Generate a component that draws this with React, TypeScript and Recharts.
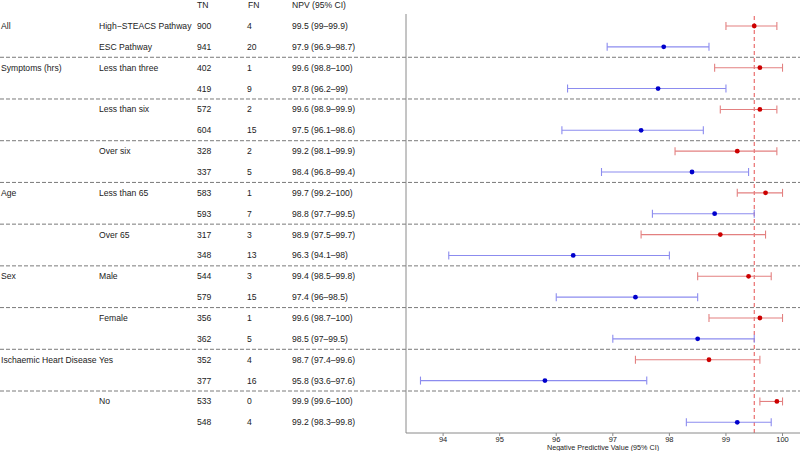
import React from 'react';
import {
  ScatterChart,
  Scatter,
  XAxis,
  YAxis,
  ErrorBar,
  ReferenceLine,
} from 'recharts';

// Row order: pairs of (High-STEACS, ESC) per subgroup
const groupLabels = ['All', '', 'Symptoms (hrs)', '', '', '', '', '', 'Age', '', '', '', 'Sex', '', '', '', 'Ischaemic Heart Disease', '', '', ''];
const subLabels = ['High\u2212STEACS Pathway', 'ESC Pathway', 'Less than three', '', 'Less than six', '', 'Over six', '', 'Less than 65', '', 'Over 65', '', 'Male', '', 'Female', '', 'Yes', '', 'No', ''];
const tnValues = [900, 941, 402, 419, 572, 604, 328, 337, 583, 593, 317, 348, 544, 579, 356, 362, 352, 377, 533, 548];
const fnValues = [4, 20, 1, 9, 2, 15, 2, 5, 1, 7, 3, 13, 3, 15, 1, 5, 4, 16, 0, 4];
const npvValues = [99.5, 97.9, 99.6, 97.8, 99.6, 97.5, 99.2, 98.4, 99.7, 98.8, 98.9, 96.3, 99.4, 97.4, 99.6, 98.5, 98.7, 95.8, 99.9, 99.2];
const ciLow = [99, 96.9, 98.8, 96.2, 98.9, 96.1, 98.1, 96.8, 99.2, 97.7, 97.5, 94.1, 98.5, 96, 98.7, 97, 97.4, 93.6, 99.6, 98.3];
const ciHigh = [99.9, 98.7, 100, 99, 99.9, 98.6, 99.9, 99.4, 100, 99.5, 99.7, 98, 99.8, 98.5, 100, 99.5, 99.6, 97.6, 100, 99.8];
const xTicks = [94, 95, 96, 97, 98, 99, 100];
const thresholdNpv = 99.5;

const rowIdx = npvValues.map((_, i) => i);
const separators = rowIdx.filter((i) => i % 2 === 1 && i < rowIdx.length - 1).map((i) => i + 0.5);

const makeRow = (i: number) => ({
  row: i,
  npv: npvValues[i],
  err: [npvValues[i] - ciLow[i], ciHigh[i] - npvValues[i]],
});
const highSteacsData = rowIdx.filter((i) => i % 2 === 0).map(makeRow);
const escData = rowIdx.filter((i) => i % 2 === 1).map(makeRow);

const FONT = '"Liberation Sans", Arial, Helvetica, sans-serif';
const TXT = '#222';
const TS = 8.6;

const fmtCi = (i: number) => `${npvValues[i]} (${ciLow[i]}\u2013${ciHigh[i]})`;

const RowTick = (props: any) => {
  const { y, payload } = props;
  const i = payload.value as number;
  const common = { fontSize: TS, fill: TXT, fontFamily: FONT, dominantBaseline: 'central' as const };
  return (
    <g>
      {i === 0 && (
        <g>
          <text x={197} y={y - 20.5} {...common}>TN</text>
          <text x={248} y={y - 20.5} {...common}>FN</text>
          <text x={292} y={y - 20.5} {...common}>NPV (95% CI)</text>
        </g>
      )}
      {groupLabels[i] && <text x={1} y={y} {...common}>{groupLabels[i]}</text>}
      {subLabels[i] && <text x={99} y={y} {...common}>{subLabels[i]}</text>}
      <text x={197} y={y} {...common}>{tnValues[i]}</text>
      <text x={247} y={y} {...common}>{fnValues[i]}</text>
      <text x={292} y={y} {...common}>{fmtCi(i)}</text>
    </g>
  );
};

const SepLine = (p: any) => (
  <line x1={0} x2={800} y1={p.y1} y2={p.y2} stroke="#7a7a7a" strokeWidth={1} strokeDasharray="4 2" />
);

export default function App() {
  return (
    <div style={{ position: 'absolute', left: 0, top: 0, width: 800, height: 451, background: '#fff' }}>
      <ScatterChart
        width={800}
        height={451}
        margin={{ top: 14, right: 0, bottom: 0, left: 0 }}
        style={{ fontFamily: FONT }}
      >
        <XAxis
          type="number"
          dataKey="npv"
          domain={[93.344, 100.309]}
          ticks={xTicks}
          allowDataOverflow
          height={18}
          tickSize={3}
          tickMargin={1}
          tick={{ fontSize: 7.5, fill: '#222', fontFamily: FONT }}
          axisLine={{ stroke: '#8a8a8a' }}
          tickLine={{ stroke: '#8a8a8a' }}
          label={{ value: 'Negative Predictive Value (95% CI)', position: 'insideBottom', offset: 1, fontSize: 7.2, fill: '#222', fontFamily: FONT }}
        />
        <YAxis
          type="number"
          dataKey="row"
          reversed
          domain={[-0.575, 19.513]}
          ticks={rowIdx}
          interval={0}
          width={406}
          tickLine={false}
          axisLine={{ stroke: '#8a8a8a' }}
          tick={<RowTick />}
        />
        {separators.map((s) => (
          <ReferenceLine key={s} y={s} shape={SepLine} ifOverflow="visible" />
        ))}
        <ReferenceLine x={thresholdNpv} stroke="#e55050" strokeDasharray="4 3" strokeWidth={1} />
        <Scatter data={highSteacsData} fill="#cc0000" isAnimationActive={false} shape={(p: any) => <circle cx={p.cx} cy={p.cy} r={2.4} fill="#cc0000" />}>
          <ErrorBar dataKey="err" direction="x" width={4} stroke="#e38080" strokeWidth={1.1} />
        </Scatter>
        <Scatter data={escData} fill="#0000cc" isAnimationActive={false} shape={(p: any) => <circle cx={p.cx} cy={p.cy} r={2.4} fill="#0000cc" />}>
          <ErrorBar dataKey="err" direction="x" width={4} stroke="#8c8cef" strokeWidth={1.1} />
        </Scatter>
      </ScatterChart>
    </div>
  );
}
